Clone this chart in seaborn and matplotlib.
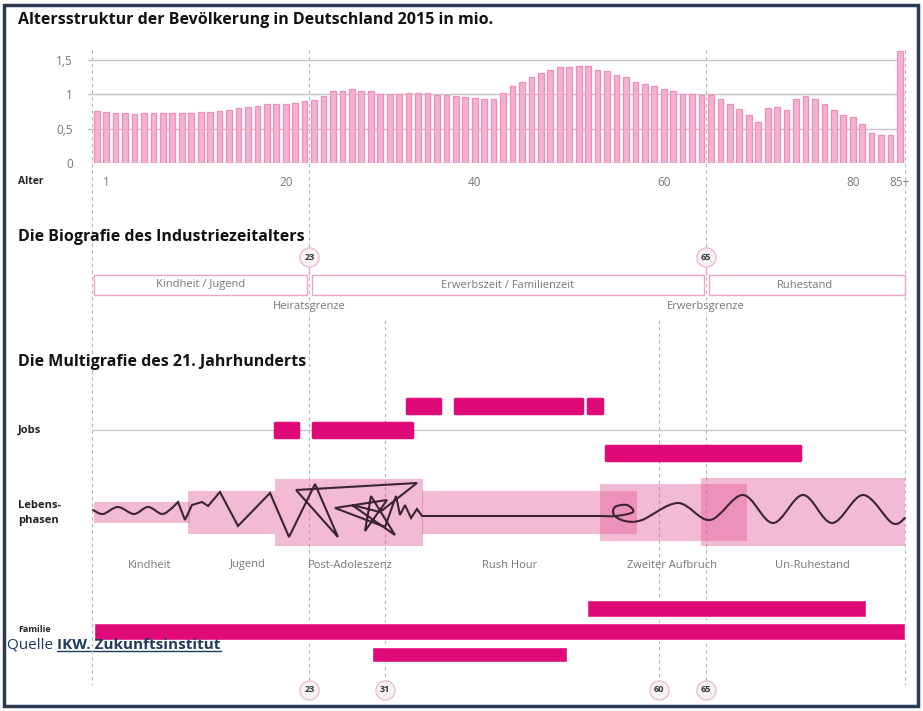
import matplotlib
matplotlib.use("Agg")
import matplotlib.pyplot as plt
from matplotlib.patches import Rectangle, PathPatch
from matplotlib.path import Path
from matplotlib.lines import Line2D
import pandas as pd
import seaborn as sns

# Altersstruktur 2015, Mio. Einwohner je Altersjahr (0 ... 85+)
alter = list(range(86))
mio = [0.75, 0.74, 0.72, 0.72, 0.71, 0.72, 0.72, 0.73, 0.72, 0.72,
       0.73, 0.74, 0.74, 0.75, 0.77, 0.80, 0.81, 0.82, 0.85, 0.85,
       0.85, 0.87, 0.90, 0.92, 0.97, 1.05, 1.05, 1.07, 1.05, 1.04,
       1.00, 1.00, 1.00, 1.02, 1.02, 1.01, 0.99, 0.98, 0.97, 0.95,
       0.94, 0.93, 0.93, 1.01, 1.11, 1.17, 1.25, 1.31, 1.35, 1.39,
       1.39, 1.41, 1.40, 1.35, 1.33, 1.28, 1.24, 1.17, 1.14, 1.11,
       1.07, 1.05, 1.00, 1.00, 0.99, 0.99, 0.93, 0.86, 0.78, 0.70,
       0.60, 0.80, 0.81, 0.77, 0.93, 0.97, 0.93, 0.85, 0.77, 0.70,
       0.66, 0.57, 0.43, 0.41, 0.40, 1.62]
tick_alter = [1, 20, 40, 60, 80, 85]
tick_text = ["1", "20", "40", "60", "80", "85+"]
y_ticks = [0, 0.5, 1, 1.5]
y_text = ["0", "0,5", "1", "1,5"]

# Biografie des Industriezeitalters
bio_phasen = ["Kindheit / Jugend", "Erwerbszeit / Familienzeit", "Ruhestand"]
bio_von = [0, 23, 65]
bio_bis = [23, 65, 86]
grenz_alter = [23, 65]
grenz_namen = ["Heiratsgrenze", "Erwerbsgrenze"]

# Multigrafie des 21. Jahrhunderts
job_von = [33.3, 38.4, 52.5, 19.4, 23.4, 54.4]
job_bis = [36.8, 51.9, 54.0, 21.8, 33.9, 74.9]
job_reihe = [0, 0, 0, 1, 1, 2]

phasen = ["Kindheit", "Jugend", "Post-Adoleszenz", "Rush Hour",
          "Zweiter Aufbruch", "Un-Ruhestand"]
phase_von = [0.2, 10.2, 19.4, 34.9, 53.8, 64.4]
phase_bis = [10.4, 19.4, 35.0, 57.7, 69.3, 86.0]
phase_breite = [21, 43, 67, 43, 57, 68]
phase_text_alter = [6.1, 16.5, 27.3, 44.2, 61.4, 76.2]

familie_von = [52.4, 0.2, 29.6]
familie_bis = [81.9, 86.0, 50.3]
familie_reihe = [0, 1, 2]

marker_alter = [23, 31, 60, 65]

# Lebenslinie (Alter, Ausschlag)
welle_kindheit = [(0.11, -2), (1.16, 2), (2.75, -5), (4.44, 2), (5.93, -5),
                  (7.41, 2), (8.47, -4)]
zickzack = [(8.47, -4), (9.10, -10), (9.84, 8), (10.58, -7), (11.64, -10),
            (12.28, -6), (13.54, -20), (15.45, 14), (18.84, -19), (20.85, 25),
            (23.60, -28), (26.03, 25), (21.59, -22), (34.39, -29), (30.48, 0),
            (27.51, -7), (32.06, 23), (29.52, -16), (28.89, 19), (31.22, -12),
            (25.71, -4), (31.01, 15), (32.17, -16), (32.59, 3), (33.12, -7),
            (33.76, 6), (34.39, -3), (34.92, 4), (53.76, 4)]
welle_spaet = [(53.76, 4), (55.45, 4), (57.25, 0), (56.61, -7), (55.34, -5),
               (55.24, 3), (56.40, 9), (58.20, 8), (62.01, -9), (65.40, 8),
               (68.89, -17), (72.06, 11), (75.24, -17), (78.31, 11),
               (81.59, -17), (84.66, 11), (86.03, 6)]

PINK = "#df0a78"
GRAU = "#777777"
X0, PX = 92, 9.45          # Pixel von Alter 0, Pixel je Jahr


def lx(x):
    return (x - X0) / PX


def glatt(punkte, y0):
    pts = [(a, y0 + d) for a, d in punkte]
    verts, codes = [pts[0]], [Path.MOVETO]
    n = len(pts)
    for i in range(n - 1):
        p0 = pts[i - 1] if i > 0 else pts[i]
        p1, p2 = pts[i], pts[i + 1]
        p3 = pts[i + 2] if i + 2 < n else pts[i + 1]
        verts += [(p1[0] + (p2[0] - p0[0]) / 6, p1[1] + (p2[1] - p0[1]) / 6),
                  (p2[0] - (p3[0] - p1[0]) / 6, p2[1] - (p3[1] - p1[1]) / 6),
                  p2]
        codes += [Path.CURVE4] * 3
    return Path(verts, codes)


sns.set_theme(style="white")
plt.rcParams["font.family"] = ["Open Sans", "DejaVu Sans"]

fig = plt.figure(figsize=(9.23, 7.11), dpi=100)

# ---- Altersstruktur (seaborn)
df = pd.DataFrame({"pos": [a + 0.5 for a in alter], "mio": mio})
ax_top = fig.add_axes([88 / 923, (711 - 163) / 711, 817 / 923, 118 / 711])
sns.barplot(data=df, x="pos", y="mio", native_scale=True, width=0.6,
            color="#f5b2d0", saturation=1, edgecolor="#ee8fba", linewidth=0.9,
            ax=ax_top, zorder=2)
ax_top.set_xlim(lx(88), lx(905))
ax_top.set_ylim(0, 118 / 69)
ax_top.set_yticks(y_ticks, y_text)
ax_top.set_xticks([a + 0.5 for a in tick_alter], tick_text)
ax_top.yaxis.grid(True, color="#c6c6c6", lw=1.0, zorder=0)
ax_top.set_axisbelow(True)
ax_top.tick_params(axis="y", length=0, pad=11, labelsize=8.5, labelcolor=GRAU)
ax_top.tick_params(axis="x", length=0, pad=9, labelsize=8.5, labelcolor=GRAU)
ax_top.set_xlabel("")
ax_top.set_ylabel("")
for s in ax_top.spines.values():
    s.set_visible(False)
ax_top.patch.set_alpha(0)

# ---- Overlay in Alterseinheiten
ax = fig.add_axes([0, 0, 1, 1], zorder=3)
ax.set_xlim(lx(0), lx(923))
ax.set_ylim(711, 0)
ax.axis("off")

# gestrichelte Führungslinien
strich = dict(colors="#b5b5b5", linestyles=(0, (3, 3)), lw=0.8, zorder=1)
ax.vlines([0, 86], 50, 685, **strich)
ax.vlines(grenz_alter, 50, 690, **strich)
ax.vlines([31, 60], 320, 690, **strich)

ax.text(lx(18), 20, "Altersstruktur der Bevölkerung in Deutschland 2015 in mio.",
        fontsize=11.5, fontweight="bold", color="#111111", va="center")
ax.text(lx(18), 181, "Alter", fontsize=7.5, fontweight="bold", color="#222222", va="center")

# ---- Biografie des Industriezeitalters
ax.text(lx(18), 237, "Die Biografie des Industriezeitalters",
        fontsize=11.5, fontweight="bold", color="#111111", va="center")
for name, v, b in zip(bio_phasen, bio_von, bio_bis):
    v2 = v + 0.25 if v > 0 else v + 0.2
    b2 = b - 0.25 if b < 86 else b
    ax.add_patch(Rectangle((v2, 275), b2 - v2, 20, fill=False,
                           ec="#f0a3c4", lw=1.0, zorder=2))
    ax.text((v + b) / 2, 285, name, fontsize=8, color=GRAU,
            ha="center", va="center")
ax.vlines(grenz_alter, 265, 275, colors="#f0a3c4", lw=1.0, zorder=2)
ax.scatter(grenz_alter, [257] * 2, s=190, facecolor="#f6f2f4",
           edgecolor="#efb9cf", lw=1.0, zorder=4)
for a, name in zip(grenz_alter, grenz_namen):
    ax.text(a, 257, str(a), fontsize=6.5, fontweight="bold", color="#333333",
            ha="center", va="center", zorder=5)
    ax.text(a, 307, name, fontsize=8, color=GRAU, ha="center", va="center",
            zorder=3, bbox=dict(fc="white", ec="none", pad=0.5))

# ---- Multigrafie
ax.text(lx(18), 362, "Die Multigrafie des 21. Jahrhunderts",
        fontsize=11.5, fontweight="bold", color="#111111", va="center")

ax.text(lx(18), 430, "Jobs", fontsize=8, fontweight="bold", color="#222222", va="center")
ax.hlines(430, 0, 86, colors="#c4c4c4", lw=0.9, zorder=1)
job_y = [406, 430, 453]
for r in range(3):
    segs = [(v, b - v) for v, b, rr in zip(job_von, job_bis, job_reihe) if rr == r]
    ax.broken_barh(segs, (job_y[r] - 7, 14), facecolors=PINK, edgecolors=PINK,
                   lw=2.5, joinstyle="round", zorder=3)

ax.text(lx(18), 505, "Lebens-", fontsize=8, fontweight="bold", color="#222222", va="center")
ax.text(lx(18), 521, "phasen", fontsize=8, fontweight="bold", color="#222222", va="center")
mitte = 512
for name, v, b, h, t in zip(phasen, phase_von, phase_bis, phase_breite, phase_text_alter):
    ax.add_patch(Rectangle((v, mitte - h / 2), b - v, h, fc="#e45b96",
                           alpha=0.42, lw=0, zorder=2))
    ax.text(t, 565, name, fontsize=8, color=GRAU, ha="center", va="center")

linie = dict(fc="none", ec="#3b2432", lw=1.5, capstyle="round", joinstyle="round", zorder=4)
ax.add_patch(PathPatch(glatt(welle_kindheit, mitte), **linie))
ax.plot([a for a, d in zickzack], [mitte + d for a, d in zickzack],
        color="#3b2432", lw=1.5, solid_joinstyle="miter", zorder=4)
ax.add_patch(PathPatch(glatt(welle_spaet, mitte), **linie))

# Familie
ax.text(lx(18), 630, "Familie", fontsize=6.5, fontweight="bold", color="#222222", va="center")
fam_y = [608, 631, 654]
fam_h = [17, 17, 15]
for r in range(3):
    segs = [(v, b - v) for v, b, rr in zip(familie_von, familie_bis, familie_reihe) if rr == r]
    ax.broken_barh(segs, (fam_y[r] - fam_h[r] / 2, fam_h[r]), facecolors=PINK, zorder=3)

ax.scatter(marker_alter, [690] * 4, s=190, facecolor="#f6f2f4",
           edgecolor="#e7c3d2", lw=1.0, zorder=4)
for a in marker_alter:
    ax.text(a, 690, str(a), fontsize=6.5, fontweight="bold", color="#333333",
            ha="center", va="center", zorder=5)

# Quelle
q1 = ax.text(lx(7), 645, "Quelle ", fontsize=11, color="#1f3a5f", va="center", zorder=6)
fig.canvas.draw()
bb = q1.get_window_extent()
q2 = fig.text(bb.x1 / 923, 1 - 645 / 711, "IKW. Zukunftsinstitut", fontsize=11,
              fontweight="bold", color="#1f3a5f", va="center", zorder=6)
fig.canvas.draw()
bb2 = q2.get_window_extent()
fig.add_artist(Line2D([bb2.x0 / 923, bb2.x1 / 923], [(bb2.y0 + 1) / 711] * 2,
                      color="#1f3a5f", lw=1.0))

# Rahmen
fig.add_artist(Rectangle((4 / 923, 5 / 711), 914 / 923, 701 / 711,
                         transform=fig.transFigure, fill=False,
                         ec="#2b3b52", lw=2.5))

fig.savefig("out.png", dpi=100, facecolor="white")
